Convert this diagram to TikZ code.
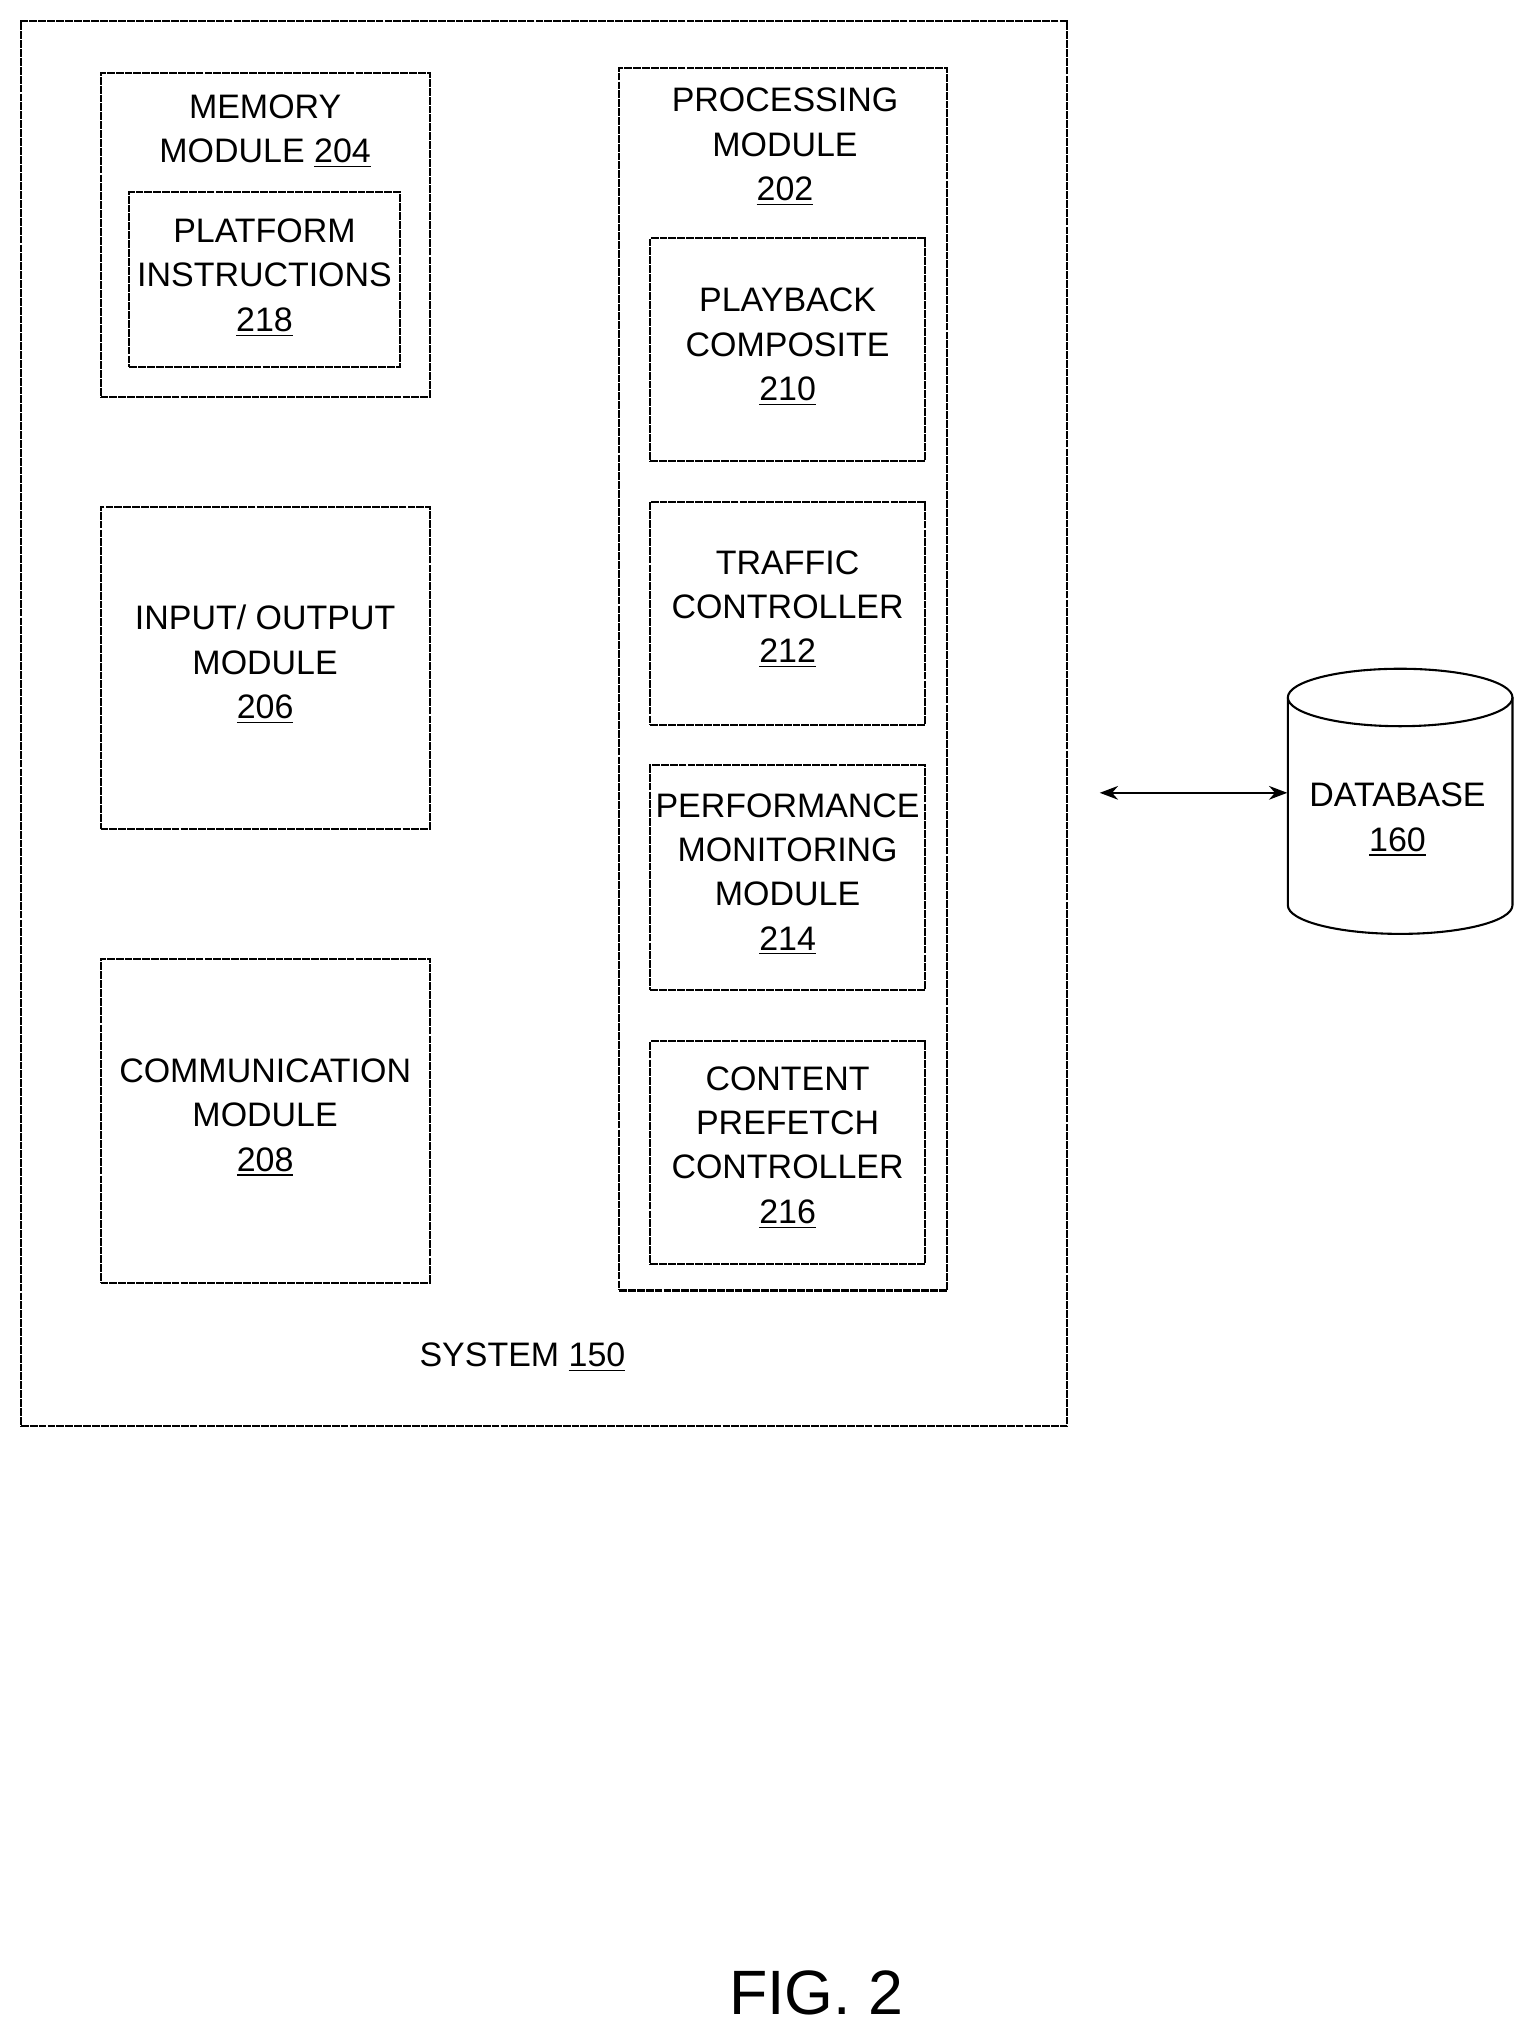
\documentclass[tikz,border=0pt]{standalone}
\usepackage{fontspec}
\setmainfont{Liberation Sans}
\usetikzlibrary{arrows.meta}
\begin{document}
\begin{tikzpicture}[x=0.5pt,y=-0.5pt,
 box/.style={draw,line width=0.8pt,inner sep=0pt,dash pattern=on 3pt off 0.4pt},
 lab/.style={align=center,font=\fontsize{13}{17}\selectfont,inner sep=0pt,anchor=north}]
\useasboundingbox (0,0) rectangle (1165,1555);
\node[box,minimum width=400.5pt,minimum height=538pt] (sys) at (416.5,554) {};
\node[lab] (syst) at (400,1028) {SYSTEM \underline{150}};
\node[box,minimum width=126pt,minimum height=124pt] (mem) at (203,180) {};
\node[lab] (memt) at (203,72) {MEMORY\\MODULE \underline{204}};
\node[box,minimum width=103.5pt,minimum height=67pt] (plat) at (202.5,214) {};
\node[lab] (platt) at (202.5,167) {PLATFORM\\INSTRUCTIONS\\\underline{218}};
\node[box,minimum width=126pt,minimum height=123.5pt] (io) at (203,511.5) {};
\node[lab] (iot) at (203,463) {INPUT/ OUTPUT\\MODULE\\\underline{206}};
\node[box,minimum width=126pt,minimum height=124pt] (com) at (203,858) {};
\node[lab] (comt) at (203,810) {COMMUNICATION\\MODULE\\\underline{208}};
\node[box,minimum width=125.5pt,minimum height=468pt] (proc) at (599.5,520) {};
\node[lab] (proct) at (601,67) {PROCESSING\\MODULE\\\underline{202}};
\node[box,minimum width=105pt,minimum height=85.5pt] (pb) at (603,267.5) {};
\node[lab] (pbt) at (603,220) {PLAYBACK\\COMPOSITE\\\underline{210}};
\node[box,minimum width=105pt,minimum height=85.5pt] (tr) at (603,469.5) {};
\node[lab] (trt) at (603,421) {TRAFFIC\\CONTROLLER\\\underline{212}};
\node[box,minimum width=105pt,minimum height=86pt] (pm) at (603,672) {};
\node[lab] (pmt) at (603,607) {PERFORMANCE\\MONITORING\\MODULE\\\underline{214}};
\node[box,minimum width=105pt,minimum height=85.5pt] (cp) at (603,882.5) {};
\node[lab] (cpt) at (603,816) {CONTENT\\PREFETCH\\CONTROLLER\\\underline{216}};
% database cylinder
\draw[line width=0.8pt] (986,534) -- (986,693) arc[start angle=180,end angle=0,x radius=86,y radius=22] -- (1158,534);
\draw[line width=0.8pt] (1072,534) ellipse[x radius=86,y radius=22];
\node[inner sep=0pt,minimum width=86pt,minimum height=101pt] (db) at (1072,613) {};
\node[lab] (dbt) at (1070,599) {DATABASE\\\underline{160}};
\coordinate (al) at (842,607);
\draw[line width=0.8pt,{Stealth[length=7pt]}-{Stealth[length=7pt]}] (al) -- (db.west|-al);
\node[font=\fontsize{24}{28}\selectfont,inner sep=0pt] (fig) at (625,1526) {FIG. 2};
\end{tikzpicture}
\end{document}
